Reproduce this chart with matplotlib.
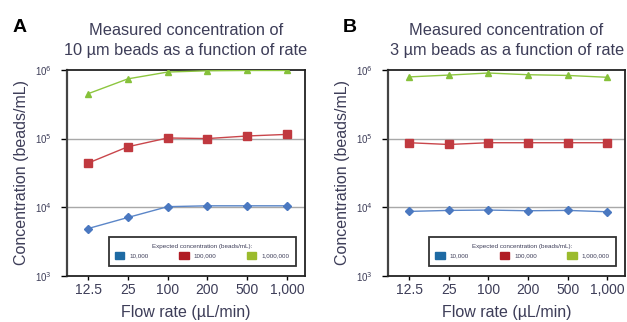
import numpy as np
import matplotlib
matplotlib.use("Agg")
from matplotlib import pyplot as plt
from matplotlib.patches import Patch

plt.rcParams["font.family"] = ["Liberation Sans", "DejaVu Sans"]

flow_rates = ["12.5", "25", "100", "200", "500", "1,000"]

# panel A: 10 um beads
a_low = [4.9e3, 7.1e3, 1.02e4, 1.05e4, 1.05e4, 1.05e4]
a_mid = [4.4e4, 7.6e4, 1.02e5, 1.0e5, 1.09e5, 1.15e5]
a_high = [4.5e5, 7.4e5, 9.3e5, 9.7e5, 9.8e5, 9.8e5]

# panel B: 3 um beads
b_low = [8.7e3, 9.0e3, 9.1e3, 8.9e3, 9.0e3, 8.6e3]
b_mid = [8.7e4, 8.2e4, 8.7e4, 8.7e4, 8.7e4, 8.7e4]
b_high = [7.9e5, 8.4e5, 9.0e5, 8.5e5, 8.3e5, 7.8e5]

legend_labels = ["10,000", "100,000", "1,000,000"]

text_col = "#3d3d58"
line_cols = ["#5b86c8", "#c9464b", "#8dc63f"]
marker_cols = ["#4a78c0", "#c0393f", "#86c13a"]
patch_cols = ["#1e6aa3", "#b01c24", "#9bbb2d"]
markers = ["D", "s", "^"]
msizes = [4, 5.5, 5]

fig = plt.figure(figsize=(6.27, 3.22), dpi=100)
ax_a = fig.add_axes([0.107, 0.143, 0.379, 0.640])
ax_b = fig.add_axes([0.619, 0.143, 0.378, 0.640])

titles = ["Measured concentration of\n10 \u00b5m beads as a function of rate",
          "Measured concentration of\n3 \u00b5m beads as a function of rate"]
panels = ["A", "B"]
panel_x = [-0.231, -0.19]
x = np.arange(len(flow_rates))

for ax, series, title, panel, px in zip([ax_a, ax_b],
                                        [[a_low, a_mid, a_high], [b_low, b_mid, b_high]],
                                        titles, panels, panel_x):
    ax.set_yscale("log")
    ax.set_ylim(1e3, 1e6)
    ax.set_xlim(-0.53, 5.45)
    for yv in [1e4, 1e5]:
        ax.axhline(yv, color="#a8a8a8", linewidth=1.0, zorder=1)
    for vals, lc, mc, m, ms in zip(series, line_cols, marker_cols, markers, msizes):
        ax.plot(x, vals, color=lc, linewidth=1.0, marker=m, markersize=ms,
                markerfacecolor=mc, markeredgecolor=mc, zorder=3)
    ax.set_xticks(x)
    ax.set_xticklabels(flow_rates, fontsize=10, color=text_col)
    ax.set_yticks([1e3, 1e4, 1e5, 1e6])
    ax.set_yticklabels(["10$^3$", "10$^4$", "10$^5$", "10$^6$"], fontsize=7, color=text_col)
    ax.minorticks_off()
    ax.tick_params(axis="x", length=3, width=1, pad=2)
    ax.tick_params(axis="y", length=4, width=1, pad=7)
    for s in ax.spines.values():
        s.set_linewidth(1.3)
        s.set_color("#222222")
    ax.spines["left"].set_color("#444444")
    ax.spines["left"].set_linewidth(1.6)
    ax.set_xlabel("Flow rate (\u00b5L/min)", fontsize=11.5, color=text_col, labelpad=6)
    ax.set_ylabel("Concentration (beads/mL)", fontsize=11.5, color=text_col, labelpad=4)
    ax.set_title(title, fontsize=11.8, color=text_col, pad=11, linespacing=1.4)
    ax.text(px, 1.205, panel, transform=ax.transAxes, fontsize=14,
            fontweight="bold", color="black", ha="left", va="center")

    handles = [Patch(facecolor=c, edgecolor=c) for c in patch_cols]
    leg = ax.legend(handles, legend_labels, loc="lower right", ncol=3,
                    title="Expected concentration (beads/mL):",
                    fontsize=4.5, title_fontsize=4.5, frameon=True, fancybox=False,
                    edgecolor="black", handlelength=1.5, handleheight=1.5,
                    columnspacing=4.9, handletextpad=0.8, borderpad=1.0,
                    bbox_to_anchor=(0.975, 0.035))
    leg.get_frame().set_linewidth(1.3)
    leg.get_title().set_color(text_col)
    for t in leg.get_texts():
        t.set_color(text_col)

fig.savefig("out.png", dpi=100)
